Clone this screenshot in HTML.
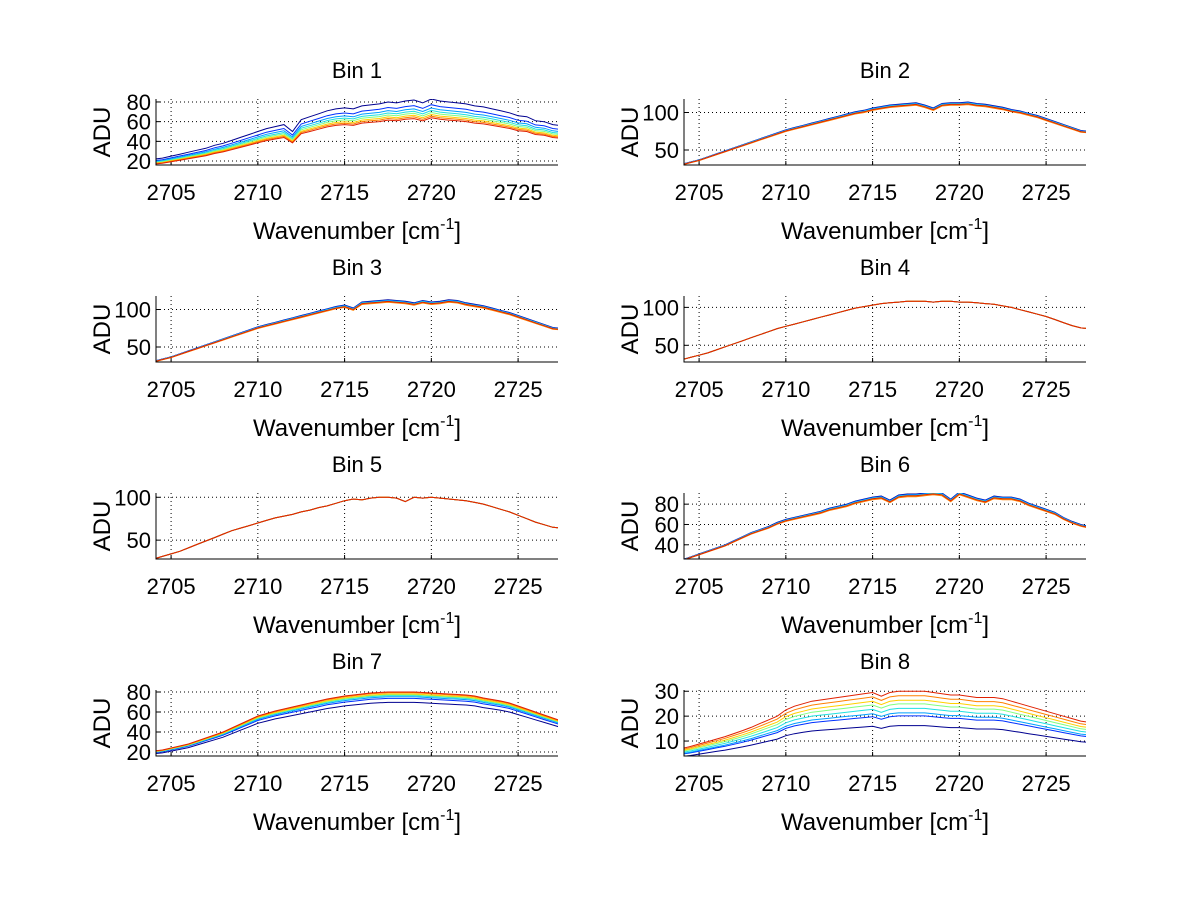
<!DOCTYPE html>
<html><head><meta charset="utf-8">
<style>
html,body{margin:0;padding:0;background:#fff;}
svg{display:block;font-family:"Liberation Sans",sans-serif;}
</style></head>
<body>
<svg id="fig" width="1200" height="901" viewBox="0 0 1200 901" xmlns="http://www.w3.org/2000/svg">
<rect width="1200" height="901" fill="#fff"/>
</svg>
<script>
// ---- data ----
const xStart = 2704, xStep = 0.5;
const xTicks = [2705, 2710, 2715, 2720, 2725];
const bin1 = [22,23,25,27,29,31,33,36,38,41,44,47,50,53,55,57,50,62,65,68,71,73,74,73,76,77,78,80,79,81,82,79,83,81,80,79,78,76,75,73,71,69,66,65,61,60,57,56];
const bin2 = [31,34,37,41,45,49,53,57,61,65,69,73,77,80,83,86,89,92,95,98,101,103,106,108,110,111,112,113,110,106,112,113,113,114,112,111,109,107,104,102,99,96,92,88,84,80,76,75];
const bin3 = [31,34,37,41,45,49,53,57,61,65,69,73,77,80,83,86,89,92,95,98,101,104,106,102,110,111,112,113,112,111,109,112,110,111,113,112,109,107,105,102,99,96,92,88,84,80,76,75];
const bin4 = [31,34,37,40,44,48,52,56,60,64,68,72,75,78,81,84,87,90,93,96,99,101,103,105,106,107,108,108,108,107,108,108,107,107,106,105,104,102,100,97,94,91,88,84,80,76,73,72];
const bin5 = [28,31,34,37,41,45,49,53,57,61,64,67,70,73,76,78,80,83,85,88,90,93,96,98,97,99,100,100,99,95,100,99,100,99,98,97,96,94,92,89,86,83,79,75,71,68,65,64];
const bin6 = [25,28,31,34,37,40,44,48,52,55,58,62,65,67,69,71,73,76,78,80,83,85,87,88,84,89,90,90,91,92,91,85,92,89,86,84,88,87,87,85,81,78,75,72,67,63,60,58];
const bin7 = [21,22,24,26,28,31,34,37,40,44,48,52,56,58.5,61,63,65,67,69,71,73,74.5,76,77,78,79,79.5,80,80,80,80,79.5,79,78.5,78,77.5,77,76,74,72.5,71,69,66,63,60,57,54,51];
const bin8 = [7,7.8,8.8,9.8,10.8,11.8,13,14.2,15.5,17,18.5,20,22.5,24,25,26,26.5,27,27.5,28,28.5,29,29.5,28,29.5,30,30,30,30,29.5,29,28.5,28.5,28,27.5,27.5,27.5,27,26,25,24,23,22,21,20,19,18,17.5];
const scales1 = [1,0.93,0.89,0.86,0.835,0.81,0.79,0.77];
const scales2 = [1,0.995,0.99,0.985,0.98,0.975,0.97,0.98];
const scales3 = [1,1,1,1,1,1,1,1];
const scales7 = [0.87,0.92,0.94,0.955,0.965,0.975,0.99,1];
const scales8 = [0.54,0.67,0.71,0.77,0.83,0.88,0.94,1];
const colors = ['#000090','#0030ff','#00a0ff','#20e0e0','#80ff80','#ffd000','#ff8000','#e02000'];
const panels = [
 {title:'Bin 1', vals:bin1, sc:scales1, y:[16,83], yt:[20,40,60,80], col:0,row:0},
 {title:'Bin 2', vals:bin2, sc:scales2, y:[30,118], yt:[50,100], col:1,row:0},
 {title:'Bin 3', vals:bin3, sc:scales2, y:[30,118], yt:[50,100], col:0,row:1},
 {title:'Bin 4', vals:bin4, sc:scales3, y:[28,115], yt:[50,100], col:1,row:1},
 {title:'Bin 5', vals:bin5, sc:scales3, y:[28,105], yt:[50,100], col:0,row:2},
 {title:'Bin 6', vals:bin6, sc:scales2, y:[26,91], yt:[40,60,80], col:1,row:2},
 {title:'Bin 7', vals:bin7, sc:scales7, y:[16,82], yt:[20,40,60,80], col:0,row:3},
 {title:'Bin 8', vals:bin8, sc:scales8, y:[4,30.5], yt:[10,20,30], col:1,row:3}
];
// ---- drawing ----
const NS='http://www.w3.org/2000/svg';
const fig=document.getElementById('fig');
const xMin=2704.13, xMax=2727.3;
const colX=[156,684], rowY=[99,296,493,690], W=402, H=66;
function mk(tag,attrs,parent){const e=document.createElementNS(NS,tag);for(const k in attrs)e.setAttribute(k,attrs[k]);parent.appendChild(e);return e;}
panels.forEach((p,pi)=>{
  const L=colX[p.col], T=rowY[p.row];
  const sx=v=>L+(v-xMin)/(xMax-xMin)*W;
  const sy=v=>T+H-(v-p.y[0])/(p.y[1]-p.y[0])*H;
  const g=mk('g',{},fig);
  
  
  const cp=mk('clipPath',{id:'cp'+pi},g);
  mk('rect',{x:L,y:T,width:W,height:H},cp);
  xTicks.forEach(t=>{
    const l=mk('line',{x1:sx(t),x2:sx(t),y1:T,y2:T+H,stroke:'#000','stroke-width':1,'stroke-dasharray':'1,3'},g);
    
    
    const tk=mk('line',{x1:sx(t),x2:sx(t),y1:T+H,y2:T+H-4,stroke:'#000'},g);
    
    
    const tx=mk('text',{x:sx(t),y:T+H+35,'font-size':22,'text-anchor':'middle'},g);
    tx.textContent=t;
    
    
  });
  p.yt.forEach(t=>{
    const l=mk('line',{x1:L,x2:L+W,y1:sy(t),y2:sy(t),stroke:'#000','stroke-width':1,'stroke-dasharray':'1,3'},g);
    
    
    const tk=mk('line',{x1:L,x2:L+4,y1:sy(t),y2:sy(t),stroke:'#000'},g);
    
    
    const tx=mk('text',{x:L-5,y:sy(t)+8,'font-size':22,'text-anchor':'end'},g);
    tx.textContent=t;
    
    
  });
  const sg=mk('g',{'clip-path':'url(#cp'+pi+')'},g);
  p.sc.forEach((s,si)=>{
    const pts=p.vals.map((v,i)=>sx(xStart+i*xStep).toFixed(1)+','+sy(v*s).toFixed(1)).join(' ');
    const pl=mk('polyline',{points:pts,fill:'none',stroke:colors[si],'stroke-width':1},sg);
    
    
  });
  const ax=mk('path',{d:`M${L},${T} L${L},${T+H} L${L+W},${T+H}`,fill:'none',stroke:'#000','stroke-width':1},g);
  
  
  const ti=mk('text',{x:L+W/2,y:T-21,'font-size':22,'text-anchor':'middle'},g);
  ti.textContent=p.title;
  
  
  const xl=mk('text',{x:L+W/2,y:T+H+74,'font-size':24,'text-anchor':'middle'},g);
  xl.innerHTML='Wavenumber [cm<tspan dy="-10" font-size="16">-1</tspan><tspan dy="10">]</tspan>';
  
  
  const yl=mk('text',{x:0,y:0,'font-size':24,'text-anchor':'middle',transform:`translate(${L-46},${T+H/2}) rotate(-90)`},g);
  yl.textContent='ADU';
  
  
});
</script>
</body></html>
